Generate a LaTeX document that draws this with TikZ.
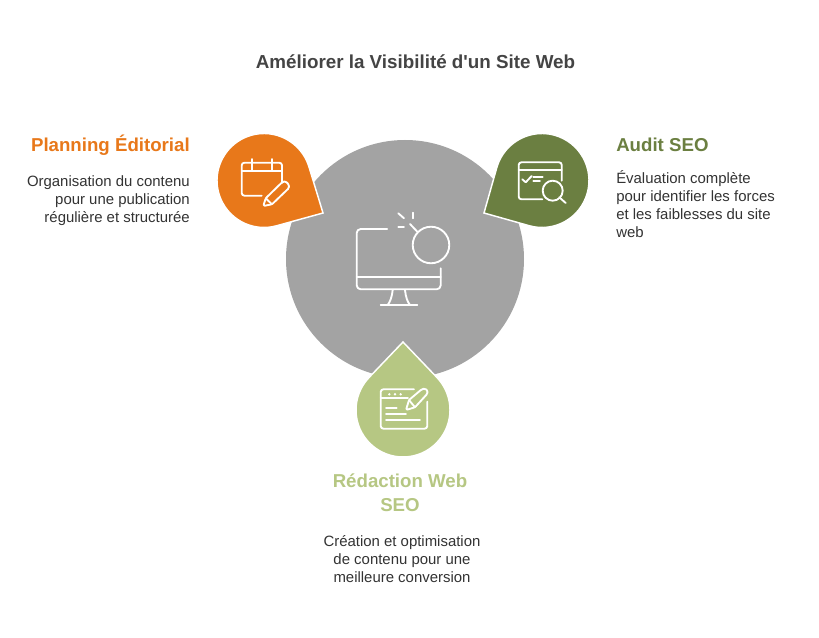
\documentclass[tikz,border=0pt]{standalone}
\usepackage{fontspec}
\setmainfont{Liberation Sans}
\newfontfamily\plainfont{Liberation Sans}
\usetikzlibrary{calc}
\definecolor{orangedrop}{HTML}{E8781A}
\definecolor{olivedrop}{HTML}{6B7F41}
\definecolor{greendrop}{HTML}{B6C783}
\definecolor{grayhub}{HTML}{A3A3A3}
\definecolor{titletext}{HTML}{444444}
\definecolor{bodytext}{HTML}{333333}
\tikzset{
 iconline/.style={white, line width=1.4pt, line cap=round, line join=round},
 headtext/.style={font=\fontsize{14}{18}\selectfont\bfseries},
 bodynode/.style={font=\fontsize{11.2}{13.5}\selectfont, text=bodytext, inner sep=0},
}
\newcommand{\dropshape}[3]{
 \filldraw[fill=#3, draw=white, line width=1.1pt, line join=miter] let \p1=($(#2)-(#1)$), \n1={atan2(\y1,\x1)}, \n2={acos(35.25/(veclen(\x1,\y1)))} in
  ($(#1)+(\n1+\n2:35.25pt)$) arc[start angle=\n1+\n2, delta angle=360-2*\n2, radius=35.25pt] -- (#2) -- cycle;
}
\begin{document}
\begin{tikzpicture}[x=.75pt, y=-.75pt]
\useasboundingbox (0,0) rectangle (819,638);
\fill[white] (0,0) rectangle (819,638);
\coordinate (hub) at (405,259);
\coordinate (planC) at (264,180.5);
\coordinate (planT) at (323,213);
\coordinate (auditC) at (542,180.5);
\coordinate (auditT) at (484,213);
\coordinate (redacC) at (403,410);
\coordinate (redacT) at (403,342);
\fill[grayhub] (hub) circle[radius=89.25pt];
\dropshape{planC}{planT}{orangedrop}
\dropshape{auditC}{auditT}{olivedrop}
\dropshape{redacC}{redacT}{greendrop}

\node[font=\plainfont\fontsize{14.1}{18}\selectfont\bfseries, text=titletext] (title) at (415.5,61.5) {Améliorer la Visibilité d'un Site Web};

\node[headtext, text=orangedrop, anchor=east, inner sep=0] (planHead) at (190,145) {Planning Éditorial};
\node[bodynode, anchor=north east, align=right] (planBody) at (190,175.5) {Organisation du contenu\\pour une publication\\régulière et structurée};
\node[headtext, text=olivedrop, anchor=west, inner sep=0] (auditHead) at (616,145) {Audit SEO};
\node[bodynode, anchor=north west, align=left] (auditBody) at (616,170) {Évaluation complète\\pour identifier les forces\\et les faiblesses du site\\web};
\node[headtext, text=greendrop, align=center, inner sep=0] (redacHead) at (400,493) {Rédaction Web\\SEO};
\node[bodynode, anchor=north, align=center] (redacBody) at (402,535.5) {Création et optimisation\\de contenu pour une\\meilleure conversion};

% monitor
\draw[iconline, rounded corners=3pt] (387.3,229)--(356.7,229)--(356.7,289.3)--(440.7,289.3)--(440.7,268.3);
\draw[iconline] (356.7,276.7)--(440.7,276.7);
\draw[iconline] (392.7,290) .. controls (392,297) and (390,302) .. (387.7,305);
\draw[iconline] (405,290) .. controls (405.7,297) and (407.5,302) .. (410,305);
\draw[iconline] (380.7,305)--(417.3,305);
\draw[iconline] (431,245) circle[radius=13.7pt];
\draw[iconline] (410,224)--(417.3,231.7);
\draw[iconline] (398.3,213.3)--(404,218.3);
\draw[iconline] (412.7,212.7)--(412.7,218.3);
\draw[iconline] (398.3,226.7)--(404,226.7);

% calendar
\draw[iconline, rounded corners=2pt] (261.7,195.7)--(241.7,195.7)--(241.7,162.7)--(282,162.7)--(282,183);
\draw[iconline] (241.7,170.7)--(282,170.7);
\foreach \x in {251.7,271.7} {
 \draw[iconline] (\x,159)--(\x,170);
}
\draw[iconline, rounded corners=1pt] (263.3,206)--(265.7,198.3)--(282.7,181.7)--(286,181.5)--(289,185)--(289,188)--(272,204.3)--cycle;
\draw[iconline] (265.7,198.3)--(272,204.3);

% audit window
\draw[iconline, rounded corners=2pt] (542.3,199.3)--(518.7,199.3)--(518.7,162.3)--(561.7,162.3)--(561.7,180.7);
\draw[iconline] (518.7,170)--(561.7,170);
\draw[iconline] (522.3,179.3)--(525.7,182.3)--(531.7,176);
\draw[iconline] (533.3,176.7)--(542.7,176.7);
\draw[iconline] (533.3,180.7)--(540,180.7);
\draw[iconline] (552.7,190.7) circle[radius=7.5pt];
\draw[iconline] (559.3,197.3)--(565.7,203);

% editor window
\draw[iconline, rounded corners=2pt] (414,389.3)--(380.7,389.3)--(380.7,428.7)--(427.3,428.7)--(427.3,401.7);
\draw[iconline] (380.7,398.3)--(408,398.3);
\foreach \x in {389.3,395,400.7} {
 \fill[white] (\x,394.3) circle[radius=1pt];
}
\draw[iconline] (386,408.3)--(396.7,408.3);
\draw[iconline] (386,414)--(406,414);
\draw[iconline] (386,420)--(420,420);
\draw[iconline, rounded corners=1pt] (406,410)--(409,400)--(421.7,389.3)--(425,388.5)--(427.8,391)--(427.3,393.8)--(415,407.3)--cycle;
\draw[iconline] (409,400)--(415,407.3);
\end{tikzpicture}
\end{document}
